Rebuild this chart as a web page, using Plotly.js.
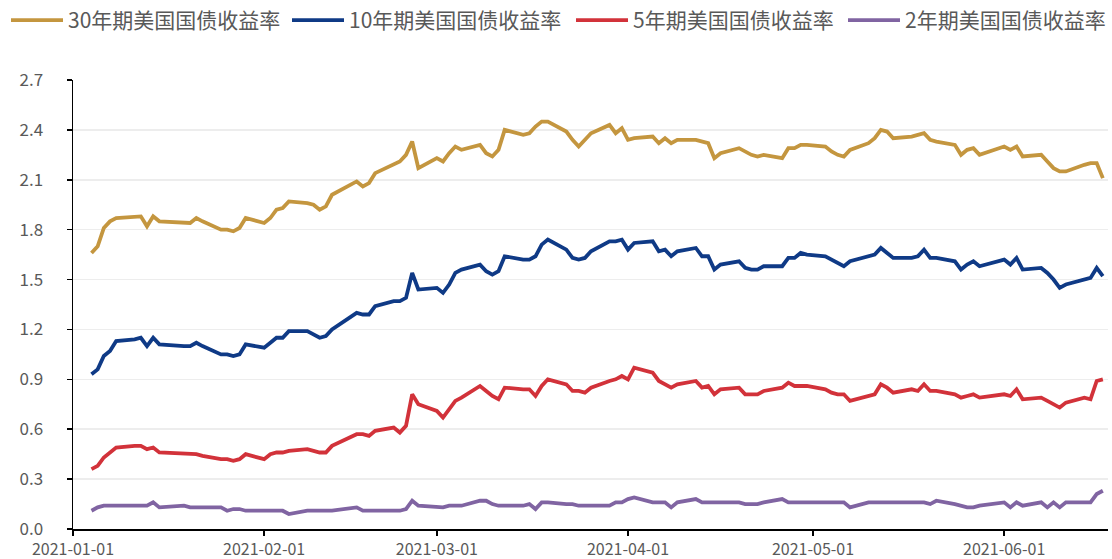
<!DOCTYPE html>
<html>
<head>
<meta charset="utf-8">
<script src="https://cdn.plot.ly/plotly-3.0.1.min.js"></script>
<style>html,body{margin:0;padding:0;background:#fff;}#chart{width:1112px;height:559px;}</style>
</head>
<body>
<div id="chart"></div>
<script>
var dates = [
  '2021-01-04','2021-01-05','2021-01-06','2021-01-07','2021-01-08','2021-01-11','2021-01-12','2021-01-13','2021-01-14','2021-01-15',
  '2021-01-19','2021-01-20','2021-01-21','2021-01-22','2021-01-25','2021-01-26','2021-01-27','2021-01-28','2021-01-29',
  '2021-02-01','2021-02-02','2021-02-03','2021-02-04','2021-02-05','2021-02-08','2021-02-09','2021-02-10','2021-02-11','2021-02-12',
  '2021-02-16','2021-02-17','2021-02-18','2021-02-19','2021-02-22','2021-02-23','2021-02-24','2021-02-25','2021-02-26',
  '2021-03-01','2021-03-02','2021-03-03','2021-03-04','2021-03-05','2021-03-08','2021-03-09','2021-03-10','2021-03-11','2021-03-12',
  '2021-03-15','2021-03-16','2021-03-17','2021-03-18','2021-03-19','2021-03-22','2021-03-23','2021-03-24','2021-03-25','2021-03-26',
  '2021-03-29','2021-03-30','2021-03-31',
  '2021-04-01','2021-04-02','2021-04-05','2021-04-06','2021-04-07','2021-04-08','2021-04-09','2021-04-12','2021-04-13','2021-04-14',
  '2021-04-15','2021-04-16','2021-04-19','2021-04-20','2021-04-21','2021-04-22','2021-04-23','2021-04-26','2021-04-27','2021-04-28',
  '2021-04-29','2021-04-30',
  '2021-05-03','2021-05-04','2021-05-05','2021-05-06','2021-05-07','2021-05-10','2021-05-11','2021-05-12','2021-05-13','2021-05-14',
  '2021-05-17','2021-05-18','2021-05-19','2021-05-20','2021-05-21','2021-05-24','2021-05-25','2021-05-26','2021-05-27','2021-05-28',
  '2021-06-01','2021-06-02','2021-06-03','2021-06-04','2021-06-07','2021-06-08','2021-06-09','2021-06-10','2021-06-11',
  '2021-06-14','2021-06-15','2021-06-16','2021-06-17'
];

var seriesNames = ['30年期美国国债收益率', '10年期美国国债收益率', '5年期美国国债收益率', '2年期美国国债收益率'];

var y30 = [
  1.66,1.70,1.81,1.85,1.87,1.88,1.88,1.82,1.88,1.85,1.84,1.84,1.87,1.85,1.80,1.80,1.79,1.81,1.87,
  1.84,1.87,1.92,1.93,1.97,1.96,1.95,1.92,1.94,2.01,2.09,2.06,2.08,2.14,2.19,2.21,2.25,2.33,2.17,
  2.23,2.21,2.26,2.30,2.28,2.31,2.26,2.24,2.28,2.40,2.37,2.38,2.42,2.45,2.45,2.39,2.34,2.30,2.34,2.38,2.43,2.38,2.41,
  2.34,2.35,2.36,2.32,2.35,2.32,2.34,2.34,2.33,2.32,2.23,2.26,2.29,2.27,2.25,2.24,2.25,2.23,2.29,2.29,2.31,2.31,
  2.30,2.27,2.25,2.24,2.28,2.32,2.35,2.40,2.39,2.35,2.36,2.37,2.38,2.34,2.33,2.31,2.25,2.28,2.29,2.25,
  2.30,2.28,2.30,2.24,2.25,2.21,2.17,2.15,2.15,2.19,2.20,2.20,2.11
];

var y10 = [
  0.93,0.96,1.04,1.07,1.13,1.14,1.15,1.10,1.15,1.11,1.10,1.10,1.12,1.10,1.05,1.05,1.04,1.05,1.11,
  1.09,1.12,1.15,1.15,1.19,1.19,1.17,1.15,1.16,1.20,1.30,1.29,1.29,1.34,1.37,1.37,1.39,1.54,1.44,
  1.45,1.42,1.47,1.54,1.56,1.59,1.55,1.53,1.55,1.64,1.62,1.62,1.64,1.71,1.74,1.68,1.63,1.62,1.63,1.67,1.73,1.73,1.74,
  1.68,1.72,1.73,1.67,1.68,1.64,1.67,1.69,1.64,1.64,1.56,1.59,1.61,1.57,1.56,1.56,1.58,1.58,1.63,1.63,1.66,1.65,
  1.64,1.62,1.60,1.58,1.61,1.64,1.65,1.69,1.66,1.63,1.63,1.64,1.68,1.63,1.63,1.61,1.56,1.59,1.61,1.58,
  1.62,1.59,1.63,1.56,1.57,1.54,1.50,1.45,1.47,1.50,1.51,1.57,1.52
];

var y5 = [
  0.36,0.38,0.43,0.46,0.49,0.50,0.50,0.48,0.49,0.46,0.45,0.45,0.45,0.44,0.42,0.42,0.41,0.42,0.45,
  0.42,0.45,0.46,0.46,0.47,0.48,0.47,0.46,0.46,0.50,0.57,0.57,0.56,0.59,0.61,0.58,0.62,0.81,0.75,
  0.71,0.67,0.72,0.77,0.79,0.86,0.83,0.80,0.78,0.85,0.84,0.84,0.80,0.86,0.90,0.87,0.83,0.83,0.82,0.85,0.89,0.90,0.92,
  0.90,0.97,0.94,0.89,0.87,0.85,0.87,0.89,0.85,0.86,0.81,0.84,0.85,0.81,0.81,0.81,0.83,0.85,0.88,0.86,0.86,0.86,
  0.84,0.82,0.81,0.81,0.77,0.80,0.81,0.87,0.85,0.82,0.84,0.83,0.87,0.83,0.83,0.81,0.79,0.80,0.81,0.79,
  0.81,0.80,0.84,0.78,0.79,0.77,0.75,0.73,0.76,0.79,0.78,0.89,0.90
];

var y2 = [
  0.11,0.13,0.14,0.14,0.14,0.14,0.14,0.14,0.16,0.13,0.14,0.13,0.13,0.13,0.13,0.11,0.12,0.12,0.11,
  0.11,0.11,0.11,0.11,0.09,0.11,0.11,0.11,0.11,0.11,0.13,0.11,0.11,0.11,0.11,0.11,0.12,0.17,0.14,
  0.13,0.13,0.14,0.14,0.14,0.17,0.17,0.15,0.14,0.14,0.14,0.15,0.12,0.16,0.16,0.15,0.15,0.14,0.14,0.14,0.14,0.16,0.16,
  0.18,0.19,0.16,0.16,0.16,0.13,0.16,0.18,0.16,0.16,0.16,0.16,0.16,0.15,0.15,0.15,0.16,0.18,0.16,0.16,0.16,0.16,
  0.16,0.16,0.16,0.16,0.13,0.16,0.16,0.16,0.16,0.16,0.16,0.16,0.16,0.15,0.17,0.15,0.14,0.13,0.13,0.14,
  0.16,0.13,0.16,0.14,0.16,0.13,0.16,0.13,0.16,0.16,0.16,0.21,0.23
];

var yTickVals = [0, 0.3, 0.6, 0.9, 1.2, 1.5, 1.8, 2.1, 2.4, 2.7];
var xTickVals = ['2021-01-01','2021-02-01','2021-03-01','2021-04-01','2021-05-01','2021-06-01'];

var colors = ['#C4963F', '#0F3A86', '#D2323A', '#8064A2'];
var ys = [y30, y10, y5, y2];
var legendIds = ['legend', 'legend2', 'legend3', 'legend4'];
var legendLeftPx = [6, 287, 571, 843];

var traces = ys.map(function (vals, i) {
  return {
    type: 'scatter', mode: 'lines', name: seriesNames[i],
    x: dates, y: vals,
    legend: legendIds[i],
    line: {color: colors[i], width: 3.8},
    hoverinfo: 'x+y+name'
  };
});

var fontFamily = '"Noto Sans CJK SC", "Noto Sans", sans-serif';

var layout = {
  width: 1112, height: 559,
  margin: {l: 73, r: 4, t: 80, b: 30},
  paper_bgcolor: '#ffffff', plot_bgcolor: '#ffffff',
  showlegend: true,
  xaxis: {
    type: 'date',
    range: ['2021-01-01', '2021-06-17 20:00'],
    tickvals: xTickVals, tickformat: '%Y-%m-%d',
    showgrid: false, zeroline: false,
    showline: true, linecolor: '#000000', linewidth: 1.5,
    ticks: 'outside', ticklen: 5, tickwidth: 1.5, tickcolor: '#000000',
    tickfont: {family: fontFamily, size: 16, color: '#595959'}
  },
  yaxis: {
    range: [0, 2.7], tickvals: yTickVals, tickformat: '.1f',
    showgrid: true, gridcolor: '#EDEDED', gridwidth: 1.5,
    zeroline: false,
    showline: true, linecolor: '#000000', linewidth: 1.5,
    ticks: 'outside', ticklen: 5, tickwidth: 1.5, tickcolor: '#000000',
    ticklabelstandoff: 20,
    tickfont: {family: fontFamily, size: 17, color: '#595959'}
  }
};

legendIds.forEach(function (id, i) {
  layout[id] = {
    orientation: 'h', xref: 'container', yref: 'container',
    x: legendLeftPx[i] / 1112, xanchor: 'left', y: 1.0, yanchor: 'top',
    font: {family: fontFamily, size: 21, color: '#595959'},
    itemwidth: 52, bgcolor: 'rgba(0,0,0,0)', borderwidth: 0
  };
});

Plotly.newPlot('chart', traces, layout, {displayModeBar: false, staticPlot: true});
</script>
</body>
</html>
